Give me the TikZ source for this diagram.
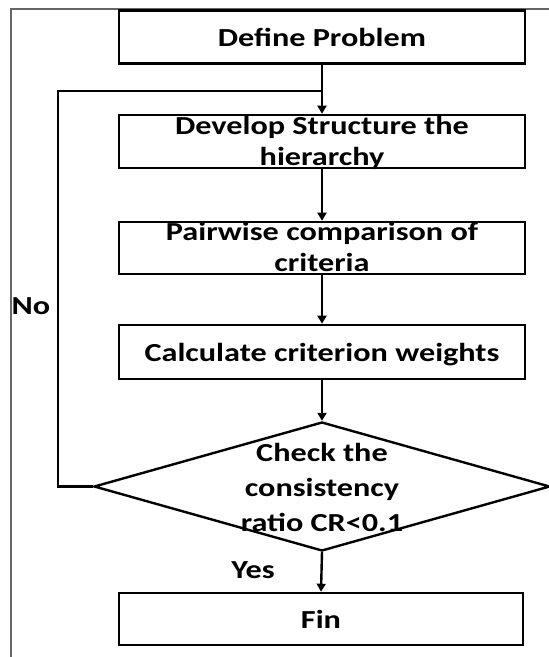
\documentclass[tikz,border=0pt]{standalone}
\usepackage{fontspec}
\setmainfont{Carlito}[FakeStretch=1.24]
\usetikzlibrary{shapes.geometric,arrows.meta}
\begin{document}
\begin{tikzpicture}[x=1pt,y=-1pt,
  box/.style={draw, line width=2.6pt, minimum width=406pt, minimum height=53pt, inner sep=0pt},
  txt/.style={font=\bfseries\fontsize{26}{31}\selectfont, align=center, inner sep=0pt},
  arr/.style={line width=2.4pt, -{Triangle[length=8pt,width=9pt]}},
  lin/.style={line width=2.4pt},
  frm/.style={draw=black!60, line width=1.3pt}]
\useasboundingbox (0,0) rectangle (549,657);
\fill[white] (0,0) rectangle (549,657);
\draw[frm] (549,9) -- (11,9) -- (11,657);

\node[box] (define) at (322,37) {};
\node[txt, anchor=base] (tdefine) at (322,46) {Define Problem};

\node[box] (develop) at (322,141.5) {};
\node[txt, anchor=base] (tdev) at (322,165) {Develop Structure the\\hierarchy};

\node[box, minimum height=52pt] (pair) at (322,248) {};
\node[txt, anchor=base] (tpair) at (322,271) {Pairwise comparison of\\criteria};

\node[box, minimum height=54pt] (calc) at (322,352) {};
\node[txt, anchor=base] (tcalc) at (322,361) {Calculate criterion weights};

\node[draw, shape=diamond, line width=2.4pt, minimum width=456pt, minimum height=129pt, inner sep=0pt] (check) at (322,486.5) {};
\node[txt, font=\bfseries\fontsize{26}{35}\selectfont] (tcheck) at (322,487) {Check the\\consistency\\ratio CR<0.1};

\node[box, minimum width=404pt, minimum height=52pt] (fin) at (321,619) {};
\node[txt, anchor=base] (tfin) at (321,628) {Fin};

\node[txt] (no) at (31,306) {No};
\node[txt] (yes) at (253,570) {Yes};

\coordinate (join) at (322,91);
\coordinate (lx) at (58,91);

\draw[arr] (define.south) -- (develop.north);
\draw[arr] (develop.south) -- (pair.north);
\draw[arr] (pair.south) -- (calc.north);
\draw[arr] (calc.south) -- (check.north);
\draw[arr] (check.south) -- (fin.north);
\draw[lin] (check.west) -| (lx) -- (join);
\end{tikzpicture}
\end{document}
